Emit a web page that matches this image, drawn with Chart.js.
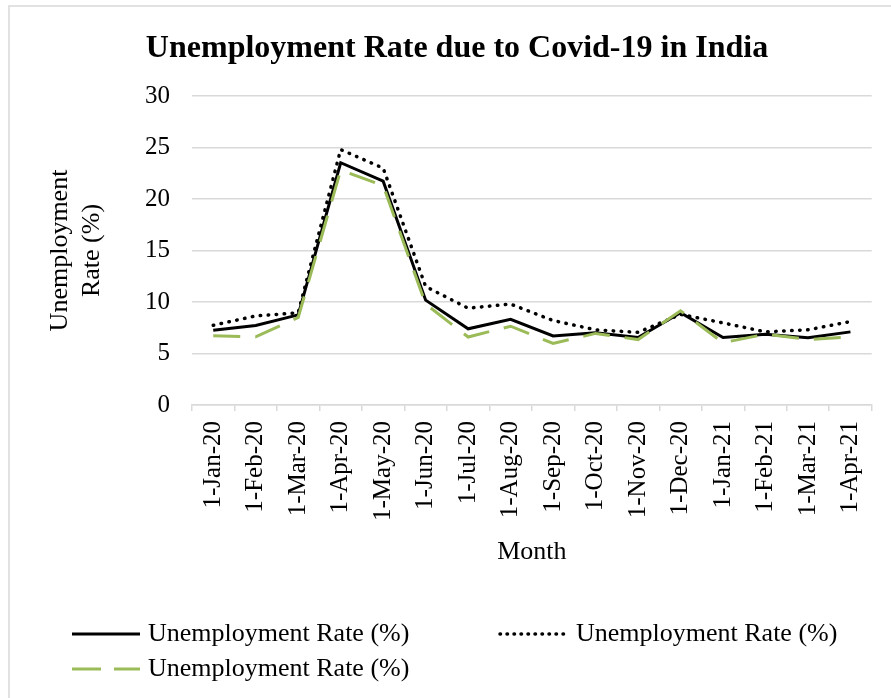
<!DOCTYPE html>
<html>
<head>
<meta charset="utf-8">
<title>Unemployment Rate due to Covid-19 in India</title>
<script src="https://cdn.jsdelivr.net/npm/chart.js@4.4.1/dist/chart.umd.min.js"></script>
<style>
  html, body { margin: 0; padding: 0; background: #ffffff; }
  #wrap { width: 891px; height: 698px; }
</style>
</head>
<body>
<div id="wrap"><canvas id="chart" width="891" height="698"></canvas></div>
<script>
// Monthly unemployment rate (%), Jan 2020 – Apr 2021
const months = [
  '1-Jan-20', '1-Feb-20', '1-Mar-20', '1-Apr-20', '1-May-20', '1-Jun-20',
  '1-Jul-20', '1-Aug-20', '1-Sep-20', '1-Oct-20', '1-Nov-20', '1-Dec-20',
  '1-Jan-21', '1-Feb-21', '1-Mar-21', '1-Apr-21'
];
const rateSolid  = [7.26, 7.72, 8.75, 23.52, 21.73, 10.18, 7.40, 8.32, 6.70, 7.02, 6.55, 8.95, 6.55, 6.88, 6.52, 7.10];
const rateDotted = [7.74, 8.65, 8.95, 24.80, 23.00, 11.50, 9.40, 9.80, 8.20, 7.30, 7.05, 8.80, 7.97, 7.10, 7.30, 8.10];
const rateDashed = [6.72, 6.62, 8.50, 22.80, 21.30, 9.80, 6.60, 7.65, 5.97, 6.95, 6.35, 9.15, 6.05, 6.87, 6.36, 6.60];
const seriesLabels = ['Unemployment Rate (%)', 'Unemployment Rate (%)', 'Unemployment Rate (%)'];
const yTicks = [0, 5, 10, 15, 20, 25, 30];

const SERIF = '"Liberation Serif", "Times New Roman", serif';
const GRID = '#d9d9d9';

// White page with a thin frame along the left and top edges
const frame = {
  id: 'frame',
  beforeDraw(chart) {
    const { ctx, width, height } = chart;
    ctx.save();
    ctx.fillStyle = '#ffffff';
    ctx.fillRect(0, 0, width, height);
    ctx.strokeStyle = GRID;
    ctx.lineWidth = 1.5;
    ctx.beginPath();
    ctx.moveTo(9, height);
    ctx.lineTo(9, 6);
    ctx.lineTo(width, 6);
    ctx.stroke();
    ctx.restore();
  }
};

// Two-column legend laid out under the axis title
const legendGrid = {
  id: 'legendGrid',
  afterDraw(chart, args, opts) {
    const { ctx } = chart;
    ctx.save();
    ctx.font = opts.fontSize + 'px ' + SERIF;
    ctx.textBaseline = 'middle';
    ctx.textAlign = 'left';
    chart.data.datasets.forEach((ds, i) => {
      const col = i % 2, row = Math.floor(i / 2);
      const x = opts.columns[col];
      const y = opts.top + row * opts.rowHeight;
      ctx.save();
      ctx.strokeStyle = ds.borderColor;
      ctx.lineWidth = ds.borderWidth;
      ctx.lineCap = ds.borderCapStyle || 'butt';
      ctx.setLineDash(ds.legendDash || ds.borderDash || []);
      ctx.beginPath();
      ctx.moveTo(x, y);
      ctx.lineTo(x + opts.sampleWidth, y);
      ctx.stroke();
      ctx.restore();
      ctx.fillStyle = '#000000';
      ctx.fillText(ds.label, x + opts.sampleWidth + opts.gap, y);
    });
    ctx.restore();
  }
};

new Chart(document.getElementById('chart'), {
  type: 'line',
  data: {
    labels: months,
    datasets: [
      {
        label: seriesLabels[0],
        data: rateSolid,
        borderColor: '#000000',
        borderWidth: 3,
        pointRadius: 0,
        tension: 0,
        order: 2
      },
      {
        label: seriesLabels[1],
        data: rateDotted,
        borderColor: '#000000',
        borderWidth: 3.5,
        borderDash: [0.5, 7.5],
        legendDash: [0.5, 6.5],
        borderCapStyle: 'round',
        pointRadius: 0,
        tension: 0,
        order: 1
      },
      {
        label: seriesLabels[2],
        data: rateDashed,
        borderColor: '#9bbb59',
        borderWidth: 3,
        borderDash: [27, 15],
        legendDash: [29, 13],
        pointRadius: 0,
        tension: 0,
        order: 0
      }
    ]
  },
  options: {
    responsive: false,
    animation: false,
    devicePixelRatio: 1,
    layout: { padding: { left: 40, top: 0, right: 17, bottom: 118 } },
    plugins: {
      legend: { display: false },
      tooltip: { enabled: false },
      title: {
        display: true,
        text: 'Unemployment Rate due to Covid-19 in India',
        color: '#000000',
        font: { family: SERIF, size: 32, weight: 'bold', lineHeight: 1.2 },
        padding: { top: 29.5, bottom: 28.1 }
      },
      legendGrid: {
        fontSize: 26,
        columns: [72, 500],
        top: 634,
        rowHeight: 35,
        sampleWidth: 68,
        gap: 8
      }
    },
    scales: {
      x: {
        type: 'category',
        offset: true,
        afterFit(scale) { scale.height = 175; },
        grid: {
          display: true,
          offset: true,
          drawOnChartArea: false,
          drawTicks: true,
          tickLength: 6,
          color: GRID,
          lineWidth: 1.5
        },
        border: { display: true, color: GRID, width: 1.5 },
        ticks: {
          color: '#000000',
          font: { family: SERIF, size: 25 },
          minRotation: 90,
          maxRotation: 90,
          autoSkip: false,
          padding: 10
        },
        title: {
          display: true,
          text: 'Month',
          color: '#000000',
          font: { family: SERIF, size: 26, lineHeight: 1.2 },
          padding: { top: 15, bottom: 12.4 }
        }
      },
      y: {
        min: 0,
        max: 30,
        afterFit(scale) { scale.width = 152; },
        afterBuildTicks(scale) { scale.ticks = yTicks.map(v => ({ value: v })); },
        grid: {
          color: GRID,
          lineWidth: 1.5,
          drawTicks: false
        },
        border: { display: false },
        ticks: {
          color: '#000000',
          font: { family: SERIF, size: 25 },
          padding: 22
        },
        title: {
          display: true,
          text: ['Unemployment', 'Rate (%)'],
          color: '#000000',
          font: { family: SERIF, size: 26, lineHeight: 1.2 },
          padding: { top: 5, bottom: 0 }
        }
      }
    }
  },
  plugins: [frame, legendGrid]
});
</script>
</body>
</html>
